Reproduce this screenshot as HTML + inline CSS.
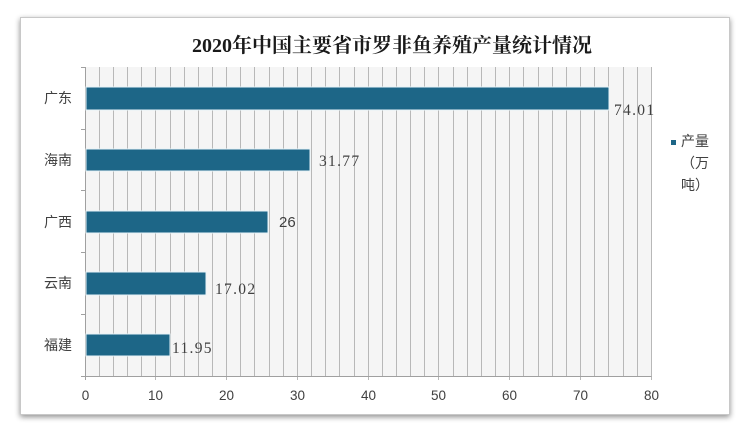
<!DOCTYPE html>
<html><head><meta charset="utf-8"><style>
html,body{margin:0;padding:0;background:#fff;width:750px;height:432px;overflow:hidden}
</style></head><body>
<svg width="750" height="432" xmlns="http://www.w3.org/2000/svg">
<defs>
<filter id="sh" x="-5%" y="-5%" width="110%" height="115%">
<feGaussianBlur in="SourceAlpha" stdDeviation="3"/>
<feOffset dx="0" dy="2"/>
<feComponentTransfer><feFuncA type="linear" slope="0.45"/></feComponentTransfer>
<feMerge><feMergeNode/><feMergeNode in="SourceGraphic"/></feMerge>
</filter>
</defs>
<rect x="20.5" y="17.5" width="709" height="397" fill="#fff" stroke="#c8c8c8" filter="url(#sh)"/>
<text x="392" y="52" text-anchor="middle" font-family="Liberation Serif, 'Noto Serif CJK SC', serif" font-weight="bold" font-size="20" fill="#1a1a1a">2020年中国主要省市罗非鱼养殖产量统计情况</text>
<rect x="85" y="67" width="566" height="309" fill="#f5f5f5"/>
<g stroke="#b8b8b8" stroke-width="1">
<line x1="99.5" y1="67" x2="99.5" y2="376"/><line x1="113.5" y1="67" x2="113.5" y2="376"/><line x1="127.5" y1="67" x2="127.5" y2="376"/><line x1="141.5" y1="67" x2="141.5" y2="376"/><line x1="155.5" y1="67" x2="155.5" y2="380"/>
<line x1="170.5" y1="67" x2="170.5" y2="376"/><line x1="184.5" y1="67" x2="184.5" y2="376"/><line x1="198.5" y1="67" x2="198.5" y2="376"/><line x1="212.5" y1="67" x2="212.5" y2="376"/><line x1="226.5" y1="67" x2="226.5" y2="380"/>
<line x1="240.5" y1="67" x2="240.5" y2="376"/><line x1="254.5" y1="67" x2="254.5" y2="376"/><line x1="269.5" y1="67" x2="269.5" y2="376"/><line x1="283.5" y1="67" x2="283.5" y2="376"/><line x1="297.5" y1="67" x2="297.5" y2="380"/>
<line x1="311.5" y1="67" x2="311.5" y2="376"/><line x1="325.5" y1="67" x2="325.5" y2="376"/><line x1="339.5" y1="67" x2="339.5" y2="376"/><line x1="354.5" y1="67" x2="354.5" y2="376"/><line x1="368.5" y1="67" x2="368.5" y2="380"/>
<line x1="382.5" y1="67" x2="382.5" y2="376"/><line x1="396.5" y1="67" x2="396.5" y2="376"/><line x1="410.5" y1="67" x2="410.5" y2="376"/><line x1="424.5" y1="67" x2="424.5" y2="376"/><line x1="438.5" y1="67" x2="438.5" y2="380"/>
<line x1="453.5" y1="67" x2="453.5" y2="376"/><line x1="467.5" y1="67" x2="467.5" y2="376"/><line x1="481.5" y1="67" x2="481.5" y2="376"/><line x1="495.5" y1="67" x2="495.5" y2="376"/><line x1="509.5" y1="67" x2="509.5" y2="380"/>
<line x1="523.5" y1="67" x2="523.5" y2="376"/><line x1="538.5" y1="67" x2="538.5" y2="376"/><line x1="552.5" y1="67" x2="552.5" y2="376"/><line x1="566.5" y1="67" x2="566.5" y2="376"/><line x1="580.5" y1="67" x2="580.5" y2="380"/>
<line x1="594.5" y1="67" x2="594.5" y2="376"/><line x1="608.5" y1="67" x2="608.5" y2="376"/><line x1="623.5" y1="67" x2="623.5" y2="376"/><line x1="637.5" y1="67" x2="637.5" y2="376"/><line x1="651.5" y1="67" x2="651.5" y2="380"/>
</g>
<g stroke="#a0a0a0" stroke-width="1">
<line x1="85.5" y1="67" x2="85.5" y2="380"/>
<line x1="81" y1="376.5" x2="651.5" y2="376.5"/>
<line x1="81" y1="67.5" x2="85" y2="67.5"/>
<line x1="81" y1="129.5" x2="85" y2="129.5"/>
<line x1="81" y1="190.5" x2="85" y2="190.5"/>
<line x1="81" y1="252.5" x2="85" y2="252.5"/>
<line x1="81" y1="314.5" x2="85" y2="314.5"/>
</g>
<g fill="#1d6687" stroke="#e6f3f8" stroke-width="1">
<rect x="86" y="87" width="523" height="23"/>
<rect x="86" y="149" width="224" height="22"/>
<rect x="86" y="211" width="182" height="22"/>
<rect x="86" y="272" width="120" height="23"/>
<rect x="86" y="334" width="84" height="22"/>
</g>
<g font-family="Liberation Serif, serif" font-size="15.5" fill="#404040" letter-spacing="1.3">
<text x="614" y="115">74.01</text>
<text x="319" y="166">31.77</text>
<text x="215" y="294">17.02</text>
<text x="172" y="353">11.95</text>
</g>
<text x="279" y="227" font-family="Liberation Sans, sans-serif" font-size="15" fill="#404040">26</text>
<g font-family="Liberation Sans, 'Noto Sans CJK SC', sans-serif" font-size="14" fill="#404040" text-anchor="end">
<text x="72" y="103">广东</text>
<text x="72" y="165">海南</text>
<text x="72" y="227">广西</text>
<text x="72" y="288">云南</text>
<text x="72" y="350">福建</text>
</g>
<g font-family="Liberation Sans, sans-serif" font-size="13.5" fill="#404040" text-anchor="middle">
<text x="85.5" y="400">0</text>
<text x="155.5" y="400">10</text>
<text x="226.5" y="400">20</text>
<text x="297.5" y="400">30</text>
<text x="368.5" y="400">40</text>
<text x="438.5" y="400">50</text>
<text x="509.5" y="400">60</text>
<text x="580.5" y="400">70</text>
<text x="651.5" y="400">80</text>
</g>
<rect x="671" y="140" width="5" height="5" fill="#1d6687"/>
<g font-family="Liberation Sans, 'Noto Sans CJK SC', sans-serif" font-size="14" fill="#404040">
<text x="681" y="146">产量</text>
<text x="681" y="168">（万</text>
<text x="681" y="190">吨）</text>
</g>
</svg>
</body></html>
